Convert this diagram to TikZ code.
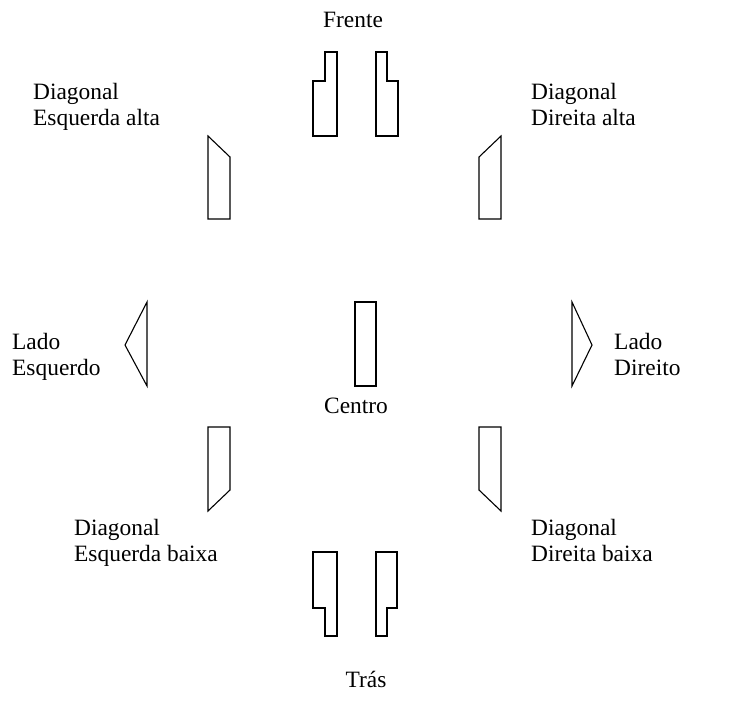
\documentclass[tikz,border=0pt]{standalone}
\usepackage{fontspec}
\setmainfont{Liberation Serif}
\usetikzlibrary{positioning}

\begin{document}
\begin{tikzpicture}[x=1pt, y=-1pt,
      lbl/.style={inner sep=0pt, align=left, anchor=base west,
                  font=\fontsize{23.4}{26}\selectfont},
      clbl/.style={lbl, anchor=base},
      peca/.style={draw, line width=1.1pt, line join=miter}
    ]
    \useasboundingbox (0,0) rectangle (731,721);

    % frente
    \draw[peca] (313,136) -- (313,81) -- (325,81) -- (325,52) -- (337,52) -- (337,136) -- cycle;
    \draw[peca] (376,136) -- (376,52) -- (387,52) -- (387,81) -- (398,81) -- (398,136) -- cycle;
    \node[clbl] (frente) at (353,27) {Frente};

    % diagonais altas (base = ultima linha)
    \draw[peca] (208,219) -- (208,136) -- (230,157) -- (230,219) -- cycle;
    \draw[peca] (479,219) -- (479,157) -- (501,136) -- (501,219) -- cycle;
    \node[lbl] (diagEA) at (33,125)  {Diagonal\\Esquerda alta};
    \node[lbl] (diagDA) at (531,125) {Diagonal\\Direita alta};

    % lados
    \draw[peca] (147,302) -- (125,345) -- (147,386) -- cycle;
    \draw[peca] (572,302) -- (592,345) -- (572,386) -- cycle;
    \node[lbl] (ladoE) at (12,375)  {Lado\\Esquerdo};
    \node[lbl] (ladoD) at (614,375) {Lado\\Direito};

    % centro
    \draw[peca] (355,302) rectangle (376,386);
    \node[clbl] (centro) at (356,413) {Centro};

    % diagonais baixas
    \draw[peca] (208,427) -- (230,427) -- (230,490) -- (208,511) -- cycle;
    \draw[peca] (479,427) -- (501,427) -- (501,511) -- (479,490) -- cycle;
    \node[lbl] (diagEB) at (74,561)  {Diagonal\\Esquerda baixa};
    \node[lbl] (diagDB) at (531,561) {Diagonal\\Direita baixa};

    % tras
    \draw[peca] (313,552) -- (337,552) -- (337,636) -- (325,636) -- (325,608) -- (313,608) -- cycle;
    \draw[peca] (376,552) -- (397,552) -- (397,608) -- (387,608) -- (387,636) -- (376,636) -- cycle;
    \node[clbl] (tras) at (366,687) {Trás};
  \end{tikzpicture}
\end{document}
